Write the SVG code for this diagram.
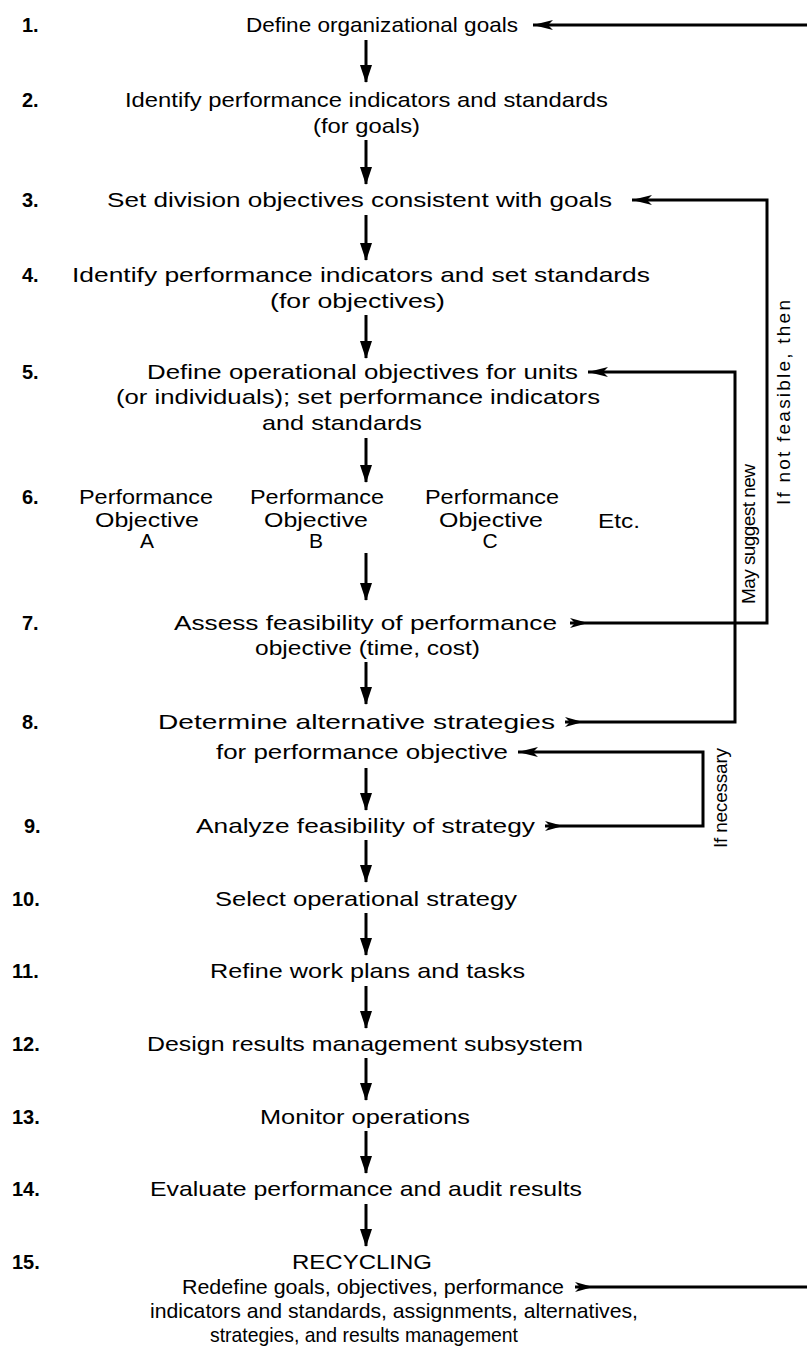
<svg xmlns="http://www.w3.org/2000/svg" width="807" height="1354" viewBox="0 0 807 1354">
<defs>
<style>
text{font-family:"Liberation Sans",Arial,sans-serif;font-size:21px;fill:#000}
.num{font-weight:bold;font-size:20px}
.rot{font-size:19px}
.ln{fill:none;stroke:#000;stroke-width:3}
.dn{fill:none;stroke:#000;stroke-width:3;marker-end:url(#vh)}
</style>
<marker id="vh" markerUnits="userSpaceOnUse" markerWidth="18" markerHeight="12" viewBox="0 0 18 12" refX="17" refY="6" orient="auto"><path d="M0,0 L18,6 L0,12 z"/></marker>
<marker id="lh" markerUnits="userSpaceOnUse" markerWidth="20" markerHeight="10" viewBox="0 0 20 10" refX="20" refY="5" orient="auto"><path d="M0,0 L20,5 L0,10 L5,5 z"/></marker>
<marker id="rh" markerUnits="userSpaceOnUse" markerWidth="20" markerHeight="10" viewBox="0 0 20 10" refX="0" refY="5" orient="auto"><path d="M0,0 L18,5 L0,10 L5,5 z"/></marker>
</defs>
<rect width="807" height="1354" fill="#fff"/>

<g id="n1"><text class="num" x="22" y="32">1.</text><text x="246" y="32" textLength="272" lengthAdjust="spacingAndGlyphs">Define organizational goals</text></g>
<g id="n2"><text class="num" x="22" y="107">2.</text><text x="125" y="107" textLength="483" lengthAdjust="spacingAndGlyphs">Identify performance indicators and standards</text><text x="313" y="133" textLength="107" lengthAdjust="spacingAndGlyphs">(for goals)</text></g>
<g id="n3"><text class="num" x="22" y="207">3.</text><text x="107" y="207" textLength="505" lengthAdjust="spacingAndGlyphs">Set division objectives consistent with goals</text></g>
<g id="n4"><text class="num" x="22" y="282">4.</text><text x="72" y="282" textLength="578" lengthAdjust="spacingAndGlyphs">Identify performance indicators and set standards</text><text x="270" y="308" textLength="175" lengthAdjust="spacingAndGlyphs">(for objectives)</text></g>
<g id="n5"><text class="num" x="22" y="379">5.</text><text x="147" y="379" textLength="431" lengthAdjust="spacingAndGlyphs">Define operational objectives for units</text><text x="116" y="404" textLength="484" lengthAdjust="spacingAndGlyphs">(or individuals); set performance indicators</text><text x="262" y="430" textLength="160" lengthAdjust="spacingAndGlyphs">and standards</text></g>
<g id="n6"><text class="num" x="22" y="504">6.</text>
<text x="79" y="504" textLength="134" lengthAdjust="spacingAndGlyphs">Performance</text><text x="95" y="527" textLength="104" lengthAdjust="spacingAndGlyphs">Objective</text><text x="147" y="548" text-anchor="middle">A</text>
<text x="250" y="504" textLength="134" lengthAdjust="spacingAndGlyphs">Performance</text><text x="264" y="527" textLength="104" lengthAdjust="spacingAndGlyphs">Objective</text><text x="316" y="548" text-anchor="middle">B</text>
<text x="425" y="504" textLength="134" lengthAdjust="spacingAndGlyphs">Performance</text><text x="439" y="527" textLength="104" lengthAdjust="spacingAndGlyphs">Objective</text><text x="490" y="548" text-anchor="middle">C</text>
<text x="598" y="528" textLength="42" lengthAdjust="spacingAndGlyphs">Etc.</text></g>
<g id="n7"><text class="num" x="22" y="630">7.</text><text x="174" y="630" textLength="383" lengthAdjust="spacingAndGlyphs">Assess feasibility of performance</text><text x="255" y="655" textLength="225" lengthAdjust="spacingAndGlyphs">objective (time, cost)</text></g>
<g id="n8"><text class="num" x="22" y="729">8.</text><text x="158" y="729" textLength="397" lengthAdjust="spacingAndGlyphs">Determine alternative strategies</text><text x="216" y="759" textLength="292" lengthAdjust="spacingAndGlyphs">for performance objective</text></g>
<g id="n9"><text class="num" x="24" y="833">9.</text><text x="196" y="833" textLength="339" lengthAdjust="spacingAndGlyphs">Analyze feasibility of strategy</text></g>
<g id="n10"><text class="num" x="12" y="906">10.</text><text x="215" y="906" textLength="302" lengthAdjust="spacingAndGlyphs">Select operational strategy</text></g>
<g id="n11"><text class="num" x="12" y="978">11.</text><text x="210" y="978" textLength="315" lengthAdjust="spacingAndGlyphs">Refine work plans and tasks</text></g>
<g id="n12"><text class="num" x="12" y="1051">12.</text><text x="147" y="1051" textLength="436" lengthAdjust="spacingAndGlyphs">Design results management subsystem</text></g>
<g id="n13"><text class="num" x="12" y="1124">13.</text><text x="260" y="1124" textLength="210" lengthAdjust="spacingAndGlyphs">Monitor operations</text></g>
<g id="n14"><text class="num" x="12" y="1196">14.</text><text x="150" y="1196" textLength="432" lengthAdjust="spacingAndGlyphs">Evaluate performance and audit results</text></g>
<g id="n15"><text class="num" x="12" y="1269">15.</text><text x="292" y="1269" textLength="140" lengthAdjust="spacingAndGlyphs">RECYCLING</text><text x="182" y="1294" textLength="382" lengthAdjust="spacingAndGlyphs">Redefine goals, objectives, performance</text><text x="150" y="1318" textLength="488" lengthAdjust="spacingAndGlyphs">indicators and standards, assignments, alternatives,</text><text x="210" y="1342" textLength="308" lengthAdjust="spacingAndGlyphs">strategies, and results management</text></g>

<g id="labels">
<text class="rot" transform="translate(790,505) rotate(-90)" textLength="205" lengthAdjust="spacing">If not feasible, then</text>
<text class="rot" transform="translate(755,604) rotate(-90)" textLength="140" lengthAdjust="spacing">May suggest new</text>
<text class="rot" transform="translate(727,848) rotate(-90)" textLength="100" lengthAdjust="spacing">If necessary</text>
</g>

<g id="connectors">
<path class="dn" d="M366,40 V82"/>
<path class="dn" d="M366,140 V184"/>
<path class="dn" d="M366,215 V260"/>
<path class="dn" d="M366,315 V358"/>
<path class="dn" d="M366,438 V482"/>
<path class="dn" d="M366,553 V600"/>
<path class="dn" d="M366,662 V704"/>
<path class="dn" d="M366,768 V810"/>
<path class="dn" d="M366,840 V882"/>
<path class="dn" d="M366,913 V955"/>
<path class="dn" d="M366,986 V1028"/>
<path class="dn" d="M366,1058 V1100"/>
<path class="dn" d="M366,1131 V1173"/>
<path class="dn" d="M366,1204 V1246"/>
<path class="ln" d="M807,25 H533" marker-end="url(#lh)"/>
<path class="ln" d="M570,623 H767 V200 H632" marker-start="url(#rh)" marker-end="url(#lh)"/>
<path class="ln" d="M565,722 H735 V372 H588" marker-start="url(#rh)" marker-end="url(#lh)"/>
<path class="ln" d="M545,826 H703 V752 H518" marker-start="url(#rh)" marker-end="url(#lh)"/>
<path class="ln" d="M575,1287 H807" marker-start="url(#rh)"/>
</g>
</svg>
